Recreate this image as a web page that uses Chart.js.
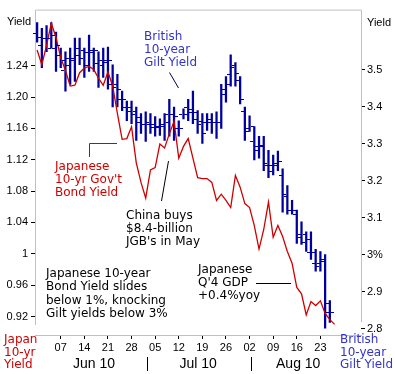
<!DOCTYPE html>
<html>
<head>
<meta charset="utf-8">
<script src="https://cdn.jsdelivr.net/npm/chart.js@4.4.1/dist/chart.umd.min.js"></script>
<style>
  html, body { margin: 0; padding: 0; background: #fff; }
  #wrap { width: 395px; height: 374px; }
</style>
</head>
<body>
<div id="wrap"><canvas id="yieldChart" width="395" height="374"></canvas></div>
<script>
// trading days 31 May 2010 .. 26 Aug 2010 (weekdays)
const days = [];
for (let d = new Date(2010, 4, 31); d <= new Date(2010, 7, 26); d.setDate(d.getDate() + 1)) {
  if (d.getDay() !== 0 && d.getDay() !== 6) days.push(new Date(d));
}

const dayTicks = ["07", "14", "21", "28", "05", "12", "19", "26", "02", "09", "16", "23"];
const monthLabels = ["Jun 10", "Jul 10", "Aug 10"];
const leftTicks = [0.92, 0.96, 1, 1.04, 1.08, 1.12, 1.16, 1.2, 1.24];
const leftTickText = ["0.92", "0.96", "1", "1.04", "1.08", "1.12", "1.16", "1.20", "1.24"];
const rightTicks = [2.8, 2.9, 3, 3.1, 3.2, 3.3, 3.4, 3.5];
const rightTickText = ["2.8", "2.9", "3%", "3.1", "3.2", "3.3", "3.4", "3.5"];

// Japan 10-yr government bond yield, daily close
const jgbYield = [
  1.260, 1.241, 1.266, 1.294, 1.276, 1.250, 1.234, 1.214, 1.215, 1.231,
  1.237, 1.239, 1.235, 1.224, 1.215, 1.232, 1.214, 1.179, 1.146, 1.147,
  1.162, 1.116, 1.091, 1.071, 1.107, 1.110, 1.140, 1.135, 1.153, 1.169,
  1.122, 1.137, 1.147, 1.122, 1.097, 1.096, 1.096, 1.091, 1.068, 1.076,
  1.068, 1.059, 1.100, 1.085, 1.064, 1.059, 1.036, 1.006, 1.031, 1.066,
  1.021, 1.036, 1.022, 1.003, 0.988, 0.957, 0.949, 0.922, 0.939, 0.934,
  0.940, 0.924, 0.916, 0.910
];

// British 10-year gilt yield, daily bars
const giltHigh = [
  3.627, 3.611, 3.619, 3.627, 3.601, 3.558, 3.548, 3.558, 3.585, 3.585,
  3.558, 3.593, 3.558, 3.548, 3.558, 3.561, 3.513, 3.487, 3.442, 3.415,
  3.415, 3.399, 3.381, 3.386, 3.381, 3.373, 3.367, 3.381, 3.420, 3.399,
  3.362, 3.394, 3.420, 3.442, 3.389, 3.381, 3.381, 3.381, 3.386, 3.460,
  3.481, 3.540, 3.519, 3.481, 3.399, 3.375, 3.346, 3.320, 3.320, 3.282,
  3.269, 3.280, 3.232, 3.187, 3.147, 3.121, 3.089, 3.062, 3.062, 3.015,
  3.009, 3.001, 2.877
];
const giltLow = [
  3.574, 3.505, 3.548, 3.558, 3.495, 3.505, 3.442, 3.460, 3.468, 3.513,
  3.479, 3.495, 3.495, 3.452, 3.479, 3.447, 3.399, 3.399, 3.389, 3.362,
  3.354, 3.309, 3.328, 3.306, 3.328, 3.320, 3.322, 3.309, 3.320, 3.309,
  3.320, 3.367, 3.362, 3.354, 3.328, 3.301, 3.336, 3.328, 3.314, 3.341,
  3.412, 3.455, 3.455, 3.407, 3.309, 3.333, 3.256, 3.261, 3.227, 3.208,
  3.216, 3.227, 3.115, 3.110, 3.110, 3.031, 3.028, 3.009, 2.988, 2.956,
  2.956, 2.802, 2.818
];
const giltOpen = [
  3.598, 3.566, 3.585, 3.585, 3.558, 3.540, 3.500, 3.532, 3.532, 3.558,
  3.532, 3.548, 3.548, 3.519, 3.527, 3.521, 3.460, 3.452, 3.420, 3.399,
  3.389, 3.381, 3.359, 3.354, 3.359, 3.346, 3.349, 3.354, 3.381, 3.381,
  3.341, 3.381, 3.399, 3.386, 3.367, 3.354, 3.359, 3.367, 3.359, 3.359,
  3.447, 3.487, 3.508, 3.473, 3.389, 3.341, 3.306, 3.293, 3.296, 3.248,
  3.243, 3.248, 3.216, 3.163, 3.121, 3.110, 3.057, 3.036, 3.009, 2.977,
  2.969, 2.983, 2.845
];
const giltClose = [
  3.588, 3.585, 3.558, 3.593, 3.566, 3.527, 3.513, 3.527, 3.540, 3.553,
  3.513, 3.553, 3.553, 3.513, 3.527, 3.527, 3.460, 3.447, 3.420, 3.399,
  3.389, 3.373, 3.354, 3.354, 3.354, 3.346, 3.349, 3.359, 3.381, 3.375,
  3.341, 3.381, 3.394, 3.386, 3.362, 3.328, 3.359, 3.359, 3.359, 3.434,
  3.460, 3.513, 3.492, 3.420, 3.333, 3.349, 3.282, 3.293, 3.243, 3.227,
  3.243, 3.253, 3.160, 3.121, 3.121, 3.049, 3.057, 3.044, 3.009, 2.977,
  2.988, 2.869, 2.845
];

// Mondays that carry a day label (07 Jun .. 23 Aug)
const mondayPos = days.map((d, k) => (d.getDay() === 1 ? k : -1)).filter(k => k >= 5 && k <= 60);

const TXT = '12px "DejaVu Sans", Verdana, sans-serif';
const AX = '"Liberation Sans", Arial, sans-serif';

function textBlock(ctx, lines, x, y, lh, color) {
  ctx.fillStyle = color;
  lines.forEach((t, k) => ctx.fillText(t, x, y + k * lh));
}
function seg(ctx, pts, color) {
  ctx.strokeStyle = color;
  ctx.lineWidth = 1;
  ctx.beginPath();
  pts.forEach((p, k) => (k ? ctx.lineTo(p[0], p[1]) : ctx.moveTo(p[0], p[1])));
  ctx.stroke();
}

const decor = {
  id: "decor",
  beforeDatasetsDraw(chart) {
    const ctx = chart.ctx;
    const { left, right, top, bottom } = chart.chartArea;
    const yEnd = chart.scales.yL.getPixelForValue(0.909);
    ctx.save();
    seg(ctx, [[left + 0.5, yEnd], [left + 0.5, top + 0.5], [right + 0.5, top + 0.5], [right + 0.5, yEnd - 3]], "#c0c0c0");
    seg(ctx, [[left, bottom + 0.5], [right + 1, bottom + 0.5]], "#c0c0c0");
    ctx.restore();
  },
  afterDatasetsDraw(chart) {
    // open / close ticks on the gilt bars
    const ctx = chart.ctx;
    const yR = chart.scales.yR;
    const bars = chart.getDatasetMeta(0).data;
    ctx.save();
    ctx.fillStyle = "#0000a0";
    bars.forEach((b, k) => {
      const yo = Math.round(yR.getPixelForValue(giltOpen[k]));
      const yc = Math.round(yR.getPixelForValue(giltClose[k]));
      const x = Math.round(b.x);
      ctx.fillRect(x - 4, yo, 3, 1);
      ctx.fillRect(x + 1, yc, 3, 1);
    });
    ctx.restore();
  },
  afterDraw(chart) {
    const ctx = chart.ctx;
    const xs = chart.scales.x;
    ctx.save();
    ctx.textBaseline = "middle";
    ctx.textAlign = "left";

    ctx.font = "11px " + AX;
    ctx.fillStyle = "#000";
    ctx.fillText("Yield", 7, 22);
    ctx.fillText("Yield", 367, 23);

    // month row
    ctx.font = "14px " + AX;
    ctx.textAlign = "center";
    [12.05, 34.1, 55.3].forEach((p, k) => ctx.fillText(monthLabels[k], xs.getPixelForValue(p), 364));
    [23.2, 45.3].forEach(p => {
      const x = Math.round(xs.getPixelForValue(p)) + 0.5;
      seg(ctx, [[x, 357], [x, 371]], "#000");
    });

    ctx.textAlign = "left";
    ctx.font = TXT;
    textBlock(ctx, ["British", "10-year", "Gilt Yield"], 144, 37, 13, "#3333cc");
    textBlock(ctx, ["Japanese", "10-yr Gov't", "Bond Yield"], 55, 167, 13, "#d00000");
    textBlock(ctx, ["China buys", "$8.4-billion", "JGB's in May"], 126, 216, 13, "#000");
    textBlock(ctx, ["Japanese 10-year", "Bond Yield slides", "below 1%, knocking", "Gilt yields below 3%"], 46, 273.5, 13.5, "#000");
    textBlock(ctx, ["Japanese", "Q'4 GDP", "+0.4%yoy"], 198, 269.5, 13, "#000");
    textBlock(ctx, ["Japan", "10-yr", "Yield"], 4, 340, 12.5, "#d00000");
    textBlock(ctx, ["British", "10-year", "Gilt Yield"], 340, 340, 12.5, "#3333cc");

    seg(ctx, [[169.5, 72.5], [178.5, 88]], "#000040");
    seg(ctx, [[89.5, 157], [89.5, 143.5], [117, 143.5]], "#d00000");
    seg(ctx, [[168.5, 161], [161.5, 201]], "#000");
    seg(ctx, [[256, 283.5], [291, 283.5]], "#000");
    ctx.restore();
  }
};

new Chart(document.getElementById("yieldChart"), {
  type: "bar",
  data: {
    datasets: [
      {
        type: "bar",
        label: "British 10-year Gilt Yield",
        data: giltHigh.map((h, k) => ({ x: k, y: [giltLow[k], h] })),
        yAxisID: "yR",
        backgroundColor: "#0000a0",
        borderWidth: 0,
        barThickness: 1.6,
        order: 2
      },
      {
        type: "line",
        label: "Japan 10-yr Yield",
        data: jgbYield.map((v, k) => ({ x: k, y: v })),
        yAxisID: "yL",
        borderColor: "#d00000",
        borderWidth: 1.3,
        pointRadius: 0,
        tension: 0,
        order: 1
      }
    ]
  },
  options: {
    responsive: false,
    devicePixelRatio: 1,
    animation: false,
    layout: { padding: { top: 4, left: 0, right: 0, bottom: 0 } },
    plugins: { legend: { display: false }, tooltip: { enabled: false } },
    scales: {
      x: {
        type: "linear",
        position: "bottom",
        min: -0.45,
        max: 68.6,
        offset: false,
        afterFit: s => { s.height = 39; },
        afterBuildTicks: s => { s.ticks = mondayPos.map(v => ({ value: v })); },
        grid: { offset: false, drawOnChartArea: false, drawTicks: true, tickLength: 4, color: "#000" },
        border: { display: false },
        ticks: {
          autoSkip: false,
          maxRotation: 0,
          padding: 2,
          color: "#000",
          font: { family: AX, size: 11 },
          callback: (v, k) => dayTicks[k]
        }
      },
      yL: {
        type: "linear",
        position: "left",
        min: 0.8964,
        max: 1.3115,
        afterFit: s => { s.width = 35; },
        afterBuildTicks: s => { s.ticks = leftTicks.map(v => ({ value: v })); },
        grid: { drawOnChartArea: false, drawTicks: true, tickLength: 4, color: "#000" },
        border: { display: false },
        ticks: {
          autoSkip: false,
          padding: 3,
          color: "#000",
          font: { family: AX, size: 11 },
          callback: (v, k) => leftTickText[k]
        }
      },
      yR: {
        type: "linear",
        position: "right",
        beginAtZero: false,
        min: 2.7838,
        max: 3.6618,
        afterFit: s => { s.width = 34; },
        afterBuildTicks: s => { s.ticks = rightTicks.map(v => ({ value: v })); },
        grid: { drawOnChartArea: false, drawTicks: true, tickLength: 4, color: "#000" },
        border: { display: false },
        ticks: {
          autoSkip: false,
          padding: 2,
          color: "#000",
          font: { family: AX, size: 11 },
          callback: (v, k) => rightTickText[k]
        }
      }
    }
  },
  plugins: [decor]
});
</script>
</body>
</html>
